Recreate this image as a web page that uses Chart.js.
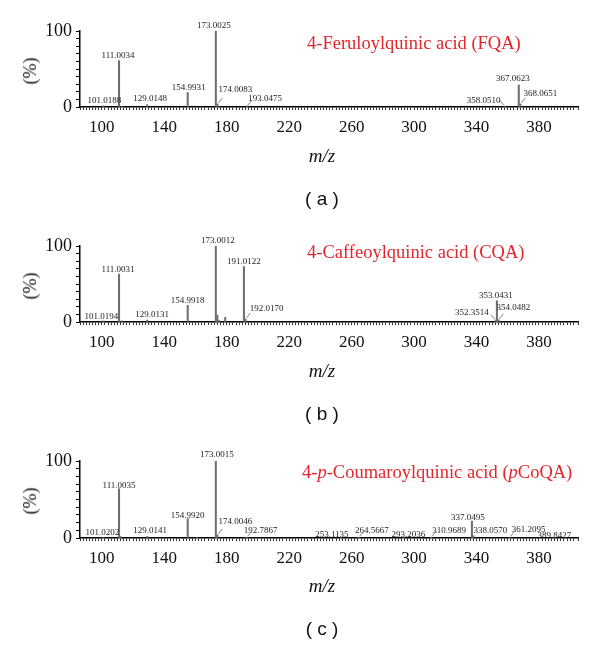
<!DOCTYPE html>
<html><head><meta charset="utf-8">
<script src="https://cdn.jsdelivr.net/npm/chart.js@4.4.1/dist/chart.umd.min.js"></script>
<style>
html,body{margin:0;padding:0;background:#fff;width:600px;height:646px;overflow:hidden}
.panel{position:absolute;left:0;width:600px}
canvas{display:block}
.t{position:absolute;white-space:nowrap;line-height:1}
.title{font-family:"Liberation Serif","Times New Roman",serif;font-size:18.5px;color:#e3262c;transform:translateY(-50%)}
.ylab{font-family:"Liberation Serif","Times New Roman",serif;font-size:18px;color:#111;transform:translate(-50%,-50%) rotate(-90deg)}
.mz{font-family:"Liberation Serif","Times New Roman",serif;font-style:italic;font-size:19px;color:#111;transform:translate(-50%,-50%)}
.cap{font-family:"Liberation Sans",Arial,sans-serif;font-size:19px;color:#111;transform:translate(-50%,-50%)}
</style>
</head><body>
<div id="root"></div>
<script>
// ---- data ----
const xTickLabels = [100, 140, 180, 220, 260, 300, 340, 380];
const yTickLabels = [0, 100];

const titleA = '4-Feruloylquinic acid (FQA)';
const titleB = '4-Caffeoylquinic acid (CQA)';
const titleC = '4-<i>p</i>-Coumaroylquinic acid (<i>p</i>CoQA)';
const captions = ['( a )', '( b )', '( c )'];

const mzA  = [101.0188, 111.0034, 113.0, 129.0148, 154.9931, 173.0025, 174.0083, 193.0475, 358.0510, 367.0623, 368.0651];
const intA = [1.5, 61, 1, 3, 19, 100, 4, 1.5, 1, 29, 4];
const labeledA = [101.0188, 111.0034, 129.0148, 154.9931, 173.0025, 174.0083, 193.0475, 358.0510, 367.0623, 368.0651];

const mzB  = [101.0194, 111.0031, 113.0, 129.0131, 154.9918, 173.0012, 174.0, 175.0, 179.0, 191.0122, 192.0170, 352.3514, 353.0431, 354.0482];
const intB = [1.5, 63, 1.5, 2.5, 22, 100, 9, 2, 6, 73, 4, 2, 28, 3];
const labeledB = [101.0194, 111.0031, 129.0131, 154.9918, 173.0012, 191.0122, 192.0170, 352.3514, 353.0431, 354.0482];

const mzC  = [101.0202, 111.0035, 112.0, 129.0141, 154.9920, 161.0, 173.0015, 174.0046, 192.7867, 253.1135, 264.5667, 293.2036, 310.9689, 337.0495, 338.0570, 361.2095, 389.8427];
const intC = [1, 64, 2, 2, 25, 1, 100, 4, 1, 0.5, 1, 0.5, 1, 22, 3, 1, 1];
const labeledC = [101.0202, 111.0035, 129.0141, 154.9920, 173.0015, 174.0046, 192.7867, 253.1135, 264.5667, 293.2036, 310.9689, 337.0495, 338.0570, 361.2095, 389.8427];

// ---- label layout (pixel offsets from peak top: dx, dy, leader) ----
const layoutA = [[1,-5,0],[-1,-5,0],[3,-6,0],[1,-5,0],[-2,-5,0],[18,-14,1],[18,-7,1],[-21,-6,1],[-6,-6,0],[20,-10,1]];
const layoutB = [[-2,-4,0],[-1,-4,0],[5,-5,0],[0,-5,0],[2,-5,0],[0,-5,0],[21,-10,1],[-24,-8,1],[-1,-5,0],[15,-12,1]];
const layoutC = [[-1,-5,0],[0,-3,0],[3,-6,0],[0,-3,0],[1,-6,0],[18,-13,1],[14,-7,1],[-9,-3,0],[13,-7,1],[5,-3,0],[18,-7,1],[-4,-3,0],[17,-5,0],[19,-8,1],[0,-2,0]];

const peakLabels = {
  id: 'peakLabels',
  afterDatasetsDraw(chart, args, opts) {
    const {ctx} = chart;
    const xs = chart.scales.x, ys = chart.scales.y;
    ctx.save();
    ctx.font = '9px "Liberation Serif", "Times New Roman", serif';
    ctx.fillStyle = '#222';
    ctx.textAlign = 'center';
    ctx.textBaseline = 'middle';
    ctx.strokeStyle = '#666';
    ctx.lineWidth = 0.8;
    opts.labeled.forEach((m, k) => {
      const i = opts.mz.indexOf(m);
      const [dx, dy, lead] = opts.layout[k];
      const xp = xs.getPixelForValue(m);
      const yt = ys.getPixelForValue(opts.inten[i]);
      ctx.fillText(m.toFixed(4), xp + dx, yt + dy);
      if (lead) {
        const s = dx >= 0 ? 1 : -1;
        ctx.beginPath();
        ctx.moveTo(xp + s * 1, yt - 1);
        ctx.lineTo(xp + s * 5, yt - 6);
        ctx.stroke();
      }
    });
    ctx.restore();
  }
};

function makePanel(top, h, mz, inten, labeled, layout, title, titleLeft, titleY, caption) {
  const root = document.getElementById('root');
  const div = document.createElement('div');
  div.className = 'panel';
  div.style.top = top + 'px';
  div.style.height = h + 'px';
  const cv = document.createElement('canvas');
  cv.width = 600; cv.height = h;
  cv.style.width = '600px'; cv.style.height = h + 'px';
  div.appendChild(cv);
  const mk = (cls, html, l, t) => {
    const e = document.createElement('div');
    e.className = 't ' + cls; e.innerHTML = html;
    e.style.left = l + 'px'; e.style.top = t + 'px';
    div.appendChild(e);
  };
  mk('title', title, titleLeft, titleY);
  mk('ylab', '(%)', 30, 71);
  mk('mz', 'm/z', 322, 155);
  mk('cap', caption, 322, 198);
  root.appendChild(div);

  new Chart(cv.getContext('2d'), {
    type: 'bar',
    data: {
      datasets: [{
        data: mz.map((m, i) => ({x: m, y: inten[i]})),
        backgroundColor: '#6f6f6f',
        borderWidth: 0,
        barThickness: 1.4
      }]
    },
    options: {
      responsive: false,
      animation: false,
      devicePixelRatio: 1,
      events: [],
      layout: {padding: {top: 31, right: 22, left: 0, bottom: 0}},
      plugins: {
        legend: {display: false},
        tooltip: {enabled: false},
        peakLabels: {mz, inten, labeled, layout}
      },
      scales: {
        x: {
          type: 'linear', min: 86, max: 405, offset: false,
          border: {display: true, color: '#000', width: 1.5},
          grid: {display: true, drawOnChartArea: false, drawTicks: true, tickLength: 3, tickColor: '#000', tickWidth: 0.8, offset: false},
          ticks: {
            stepSize: 2, autoSkip: false, maxRotation: 0, minRotation: 0, padding: 7,
            color: '#111',
            font: {family: '"Liberation Serif", "Times New Roman", serif', size: 17},
            callback: v => xTickLabels.includes(Math.round(v * 1000) / 1000) ? String(Math.round(v)) : ''
          },
          afterFit: s => { s.height = 108; }
        },
        y: {
          min: 0, max: 100,
          border: {display: true, color: '#000', width: 1.5},
          grid: {display: true, drawOnChartArea: false, drawTicks: true, tickLength: 4, tickColor: '#000', tickWidth: 1},
          ticks: {
            stepSize: 10, autoSkip: false, padding: 4, color: '#111',
            font: {family: '"Liberation Serif", "Times New Roman", serif', size: 18},
            callback: v => yTickLabels.includes(Math.round(v)) ? String(Math.round(v)) : ''
          },
          afterFit: s => { s.width = 80; }
        }
      }
    },
    plugins: [peakLabels]
  });
}

makePanel(0, 215, mzA, intA, labeledA, layoutA, titleA, 307, 43, captions[0]);
makePanel(215, 215, mzB, intB, labeledB, layoutB, titleB, 307, 37, captions[1]);
makePanel(430, 216, mzC, intC, labeledC, layoutC, titleC, 302, 42, captions[2]);
</script>
</body></html>
